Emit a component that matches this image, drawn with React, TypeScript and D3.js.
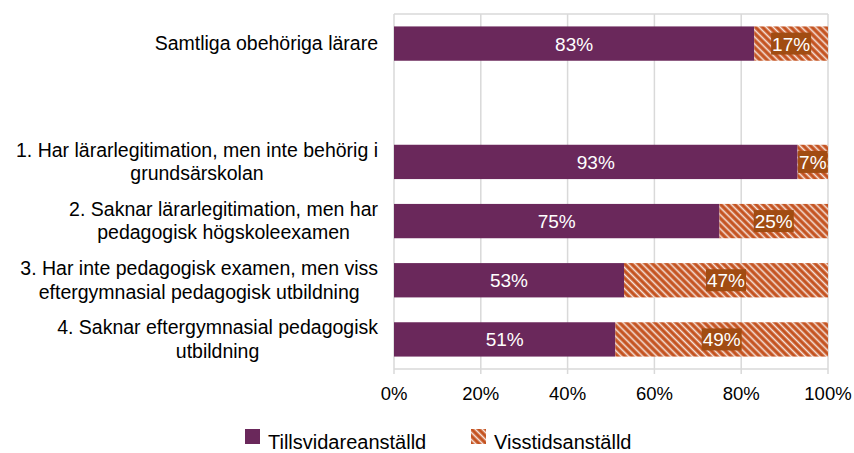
import React, { useRef, useEffect } from 'react';
import * as d3 from 'd3';

const categories = [
  'Samtliga obehöriga lärare',
  '',
  '1. Har lärarlegitimation, men inte behörig i|grundsärskolan',
  '2. Saknar lärarlegitimation, men har|pedagogisk högskoleexamen',
  '3. Har inte pedagogisk examen, men viss|eftergymnasial pedagogisk utbildning',
  '4. Saknar eftergymnasial pedagogisk|utbildning',
];
const permanent = [83, null, 93, 75, 53, 51];
const temporary = [17, null, 7, 25, 47, 49];
const ticks = [0, 20, 40, 60, 80, 100];
const seriesNames = ['Tillsvidareanställd', 'Visstidsanställd'];

const PURPLE = '#6a285b';
const ORANGE = '#c4521f';
const BOX = '#a14c12';
const FONT = 'Liberation Sans, Arial, sans-serif';

const App = () => {
  const svgRef = useRef<SVGSVGElement>(null);

  useEffect(() => {
    const width = 854;
    const height = 453;
    const margin = { top: 14, right: 26, bottom: 84, left: 394 };

    const svg = d3.select(svgRef.current).attr('width', width).attr('height', height);
    svg.selectAll('*').remove();

    const defs = svg.append('defs');
    const pat = defs.append('pattern')
      .attr('id', 'hatch')
      .attr('patternUnits', 'userSpaceOnUse')
      .attr('width', 5)
      .attr('height', 5)
      .attr('patternTransform', 'rotate(45)');
    pat.append('rect').attr('width', 5).attr('height', 5).attr('fill', ORANGE);
    pat.append('line')
      .attr('x1', 0).attr('x2', 5).attr('y1', 2.5).attr('y2', 2.5)
      .attr('stroke', '#fff').attr('stroke-width', 1.6).attr('stroke-opacity', 0.85);

    const x = d3.scaleLinear().domain([0, 100]).range([margin.left, width - margin.right]);
    const keys = categories.map((_, i) => String(i));
    const y = d3.scaleBand()
      .domain(keys)
      .range([margin.top, height - margin.bottom])
      .paddingInner(0.42)
      .paddingOuter(0.21);

    const grid = '#d9d9d9';
    // gridlines
    svg.append('g').selectAll('line').data(ticks).enter().append('line')
      .attr('x1', d => x(d)).attr('x2', d => x(d))
      .attr('y1', margin.top).attr('y2', height - margin.bottom + 5)
      .attr('stroke', grid).attr('stroke-width', 1.5);
    svg.append('line')
      .attr('x1', margin.left).attr('x2', width - margin.right)
      .attr('y1', margin.top).attr('y2', margin.top)
      .attr('stroke', grid).attr('stroke-width', 1.5);
    svg.append('line')
      .attr('x1', margin.left).attr('x2', width - margin.right)
      .attr('y1', height - margin.bottom).attr('y2', height - margin.bottom)
      .attr('stroke', grid).attr('stroke-width', 1.5);

    // tick labels
    svg.append('g').selectAll('text').data(ticks).enter().append('text')
      .attr('x', d => x(d)).attr('y', height - margin.bottom + 31)
      .attr('text-anchor', 'middle')
      .attr('font-family', FONT).attr('font-size', 18.5).attr('fill', '#000')
      .text(d => `${d}%`);

    // category labels (block right-aligned, lines centred)
    const labelRight = 378;
    categories.forEach((c, i) => {
      if (!c) return;
      const lines = c.split('|');
      const cy = (y(String(i)) as number) + y.bandwidth() / 2;
      const g = svg.append('g');
      const texts = lines.map((l, j) => g.append('text')
        .attr('y', cy + (j - (lines.length - 1) / 2) * 23.5 + 6.5)
        .attr('text-anchor', 'middle')
        .attr('font-family', FONT).attr('font-size', 19.5).attr('fill', '#000')
        .text(l));
      const maxW = d3.max(texts, t => (t.node() as SVGTextElement).getComputedTextLength()) || 0;
      texts.forEach(t => t.attr('x', labelRight - maxW / 2));
    });

    // bars
    categories.forEach((_, i) => {
      const p = permanent[i];
      const t = temporary[i];
      if (p == null || t == null) return;
      const y0 = y(String(i)) as number;
      const h = y.bandwidth();
      svg.append('rect')
        .attr('x', x(0)).attr('y', y0).attr('width', x(p) - x(0)).attr('height', h)
        .attr('fill', PURPLE);
      svg.append('rect')
        .attr('x', x(p)).attr('y', y0).attr('width', x(p + t) - x(p)).attr('height', h)
        .attr('fill', 'url(#hatch)');
      svg.append('text')
        .attr('x', (x(0) + x(p)) / 2).attr('y', y0 + h / 2 + 7)
        .attr('text-anchor', 'middle')
        .attr('font-family', FONT).attr('font-size', 19).attr('fill', '#fff')
        .text(`${p}%`);
      const cx = (x(p) + x(p + t)) / 2;
      const lg = svg.append('g');
      const box = lg.append('rect').attr('fill', BOX);
      const lt = lg.append('text')
        .attr('x', cx).attr('y', y0 + h / 2 + 7)
        .attr('text-anchor', 'middle')
        .attr('font-family', FONT).attr('font-size', 19).attr('fill', '#fff')
        .text(`${t}%`);
      const w = (lt.node() as SVGTextElement).getComputedTextLength();
      box.attr('x', cx - w / 2 - 1).attr('y', y0 + h / 2 - 11).attr('width', w + 2).attr('height', 22);
    });

    // legend
    const legend = svg.append('g');
    const items = [
      { name: seriesNames[0], fill: PURPLE, x: 245 },
      { name: seriesNames[1], fill: 'url(#hatch)', x: 471 },
    ];
    items.forEach(it => {
      legend.append('rect').attr('x', it.x).attr('y', 429).attr('width', 15).attr('height', 15).attr('fill', it.fill);
      legend.append('text')
        .attr('x', it.x + 23).attr('y', 448.5)
        .attr('font-family', FONT).attr('font-size', 20).attr('fill', '#000')
        .text(it.name);
    });
  }, []);

  return (
    <svg ref={svgRef} style={{ position: 'absolute', left: 0, top: 0, background: '#fff' }}></svg>
  );
};

export default App;
